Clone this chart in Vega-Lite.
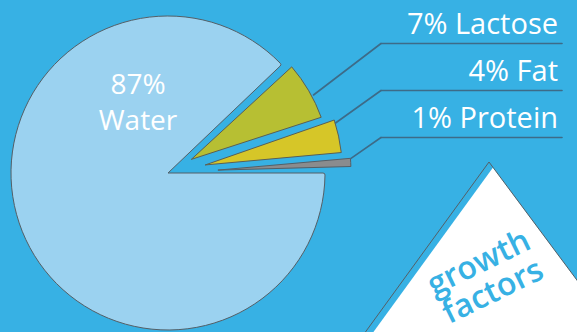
{
  "$schema": "https://vega.github.io/schema/vega-lite/v6.json",
  "width": 336,
  "height": 318,
  "autosize": {"type": "none"},
  "padding": {"left": 0, "top": 14, "right": 241, "bottom": 0},
  "background": "#37b1e4",
  "config": {"view": {"stroke": null}},
  "data": {
    "values": [
      {"part": "Water", "value": 87, "label": "87%\nWater"},
      {"part": "Lactose", "value": 7, "label": "7% Lactose"},
      {"part": "Fat", "value": 4, "label": "4% Fat"},
      {"part": "Protein", "value": 1, "label": "1% Protein"}
    ]
  },
  "transform": [
    {"stack": "value", "groupby": [], "sort": [{"field": "value", "order": "descending"}], "offset": "normalize", "as": ["t0", "t1"]}
  ],
  "layer": [
    {
      "transform": [{"filter": "datum.part === 'Water'"}],
      "mark": {"type": "point", "shape": "M-0.005,-0.84L0.8905,0.363L-0.887,0.3735Z", "size": 160000, "filled": true, "fill": "#ffffff", "opacity": 1, "strokeWidth": 0, "x": 494, "y": 321.5},
      "encoding": {}
    },
    {
      "transform": [{"filter": "datum.part === 'Water'"}],
      "mark": {"type": "point", "shape": "M-0.005,-0.84L0.8905,0.363L-0.887,0.3735Z", "size": 160000, "filled": false, "stroke": "#555f66", "strokeWidth": 1, "opacity": 1, "x": 490, "y": 316},
      "encoding": {}
    },
    {
      "transform": [{"filter": "datum.part === 'Water'"}],
      "mark": {"type": "text", "text": ["growth", "factors"], "x": 479, "y": 249, "angle": -26, "align": "center", "baseline": "middle", "font": "Open Sans", "fontSize": 32, "fontWeight": 600, "lineHeight": 32, "color": "#37b1e4"},
      "encoding": {}
    },
    {
      "transform": [{"filter": "datum.part === 'Water'"}],
      "mark": {"type": "arc", "radius": 157, "radius2": 0, "padAngle": 0, "cornerRadius": 2, "fill": "#9bd2f0", "stroke": "#555f66", "strokeWidth": 1},
      "encoding": {
        "theta": {"field": "t0", "type": "quantitative", "stack": null, "scale": {"domain": [0, 1], "range": [1.5708, 7.854]}},
        "theta2": {"field": "t1"}
      }
    },
    {
      "transform": [{"filter": "datum.part === 'Lactose'"}],
      "mark": {"type": "arc", "radius": 163, "radius2": 27, "padAngle": 0.083, "thetaOffset": 0.0105, "theta2Offset": 0.0105, "fill": "#b7bf33", "stroke": "#5a5f55", "strokeWidth": 1},
      "encoding": {
        "theta": {"field": "t0", "type": "quantitative", "stack": null, "scale": {"domain": [0, 1], "range": [1.5708, 7.854]}},
        "theta2": {"field": "t1"}
      }
    },
    {
      "transform": [{"filter": "datum.part === 'Fat'"}],
      "mark": {"type": "arc", "radius": 174.5, "radius2": 38, "padAngle": 0.0614, "thetaOffset": -0.0227, "theta2Offset": -0.0227, "fill": "#d6c628", "stroke": "#5a5f55", "strokeWidth": 1},
      "encoding": {
        "theta": {"field": "t0", "type": "quantitative", "stack": null, "scale": {"domain": [0, 1], "range": [1.5708, 7.854]}},
        "theta2": {"field": "t1"}
      }
    },
    {
      "transform": [{"filter": "datum.part === 'Protein'"}],
      "mark": {"type": "arc", "radius": 183, "radius2": 50, "padAngle": 0.018, "thetaOffset": -0.0262, "theta2Offset": -0.0262, "fill": "#8a8c8e", "stroke": "#555f66", "strokeWidth": 1},
      "encoding": {
        "theta": {"field": "t0", "type": "quantitative", "stack": null, "scale": {"domain": [0, 1], "range": [1.5708, 7.854]}},
        "theta2": {"field": "t1"}
      }
    },
    {
      "transform": [{"filter": "datum.part === 'Water'"}],
      "mark": {"type": "text", "x": 138, "y": 80, "align": "center", "baseline": "alphabetic", "lineBreak": "\n", "lineHeight": 36, "font": "Open Sans", "fontSize": 28, "fontWeight": 500, "color": "#ffffff"},
      "encoding": {"text": {"field": "label"}}
    },
    {
      "transform": [{"filter": "datum.part !== 'Water'"}],
      "mark": {"type": "rule", "x": 381, "x2": 562, "yOffset": 9.5, "stroke": "#3d6b88", "strokeWidth": 1.6, "strokeCap": "round"},
      "encoding": {
        "y": {"field": "part", "type": "nominal", "scale": {"type": "point", "padding": 0, "domain": ["Lactose", "Fat", "Protein"], "range": [20, 114]}, "axis": null}
      }
    },
    {
      "transform": [{"filter": "datum.part === 'Lactose'"}],
      "mark": {"type": "rule", "stroke": "#3d6b88", "strokeWidth": 1.6, "strokeCap": "round"},
      "encoding": {"x": {"value": 313.5}, "y": {"value": 81}, "x2": {"value": 381}, "y2": {"value": 29.5}}
    },
    {
      "transform": [{"filter": "datum.part === 'Fat'"}],
      "mark": {"type": "rule", "stroke": "#3d6b88", "strokeWidth": 1.6, "strokeCap": "round"},
      "encoding": {"x": {"value": 335.5}, "y": {"value": 109}, "x2": {"value": 381}, "y2": {"value": 76.5}}
    },
    {
      "transform": [{"filter": "datum.part === 'Protein'"}],
      "mark": {"type": "rule", "stroke": "#3d6b88", "strokeWidth": 1.6, "strokeCap": "round"},
      "encoding": {"x": {"value": 351}, "y": {"value": 144.3}, "x2": {"value": 381}, "y2": {"value": 123.5}}
    },
    {
      "transform": [{"filter": "datum.part !== 'Water'"}],
      "mark": {"type": "text", "x": 558, "align": "right", "baseline": "alphabetic", "font": "Open Sans", "fontSize": 29, "fontWeight": 500, "color": "#ffffff"},
      "encoding": {
        "y": {"field": "part", "type": "nominal", "scale": {"type": "point", "padding": 0, "domain": ["Lactose", "Fat", "Protein"], "range": [20, 114]}, "axis": null},
        "text": {"field": "label"}
      }
    }
  ]
}
